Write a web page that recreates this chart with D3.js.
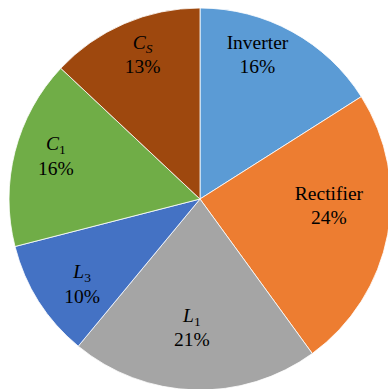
<!DOCTYPE html>
<html>
<head>
<meta charset="utf-8">
<script src="https://cdn.jsdelivr.net/npm/d3@7"></script>
<style>
  html, body { margin: 0; padding: 0; background: #fff; }
  svg { display: block; }
</style>
</head>
<body>
<svg id="chart" width="388" height="389"></svg>
<script>
// Share of loss by component (percent), clockwise from 12 o'clock
const categories = ["Inverter", "Rectifier", "L1", "L3", "C1", "CS"];
const shares = [16, 24, 21, 10, 16, 13];
const colors = ["#5B9BD5", "#ED7D31", "#A5A5A5", "#4472C4", "#70AD47", "#9E480E"];

// How each name is typeset: main letter, subscript, italic flags
const nameParts = {
  "Inverter": { main: "Inverter", sub: null, italic: false },
  "Rectifier": { main: "Rectifier", sub: null, italic: false },
  "L1": { main: "L", sub: "1", italic: true, subItalic: false },
  "L3": { main: "L", sub: "3", italic: true, subItalic: false },
  "C1": { main: "C", sub: "1", italic: true, subItalic: false },
  "CS": { main: "C", sub: "S", italic: true, subItalic: true }
};

// Label anchors in polar form (degrees clockwise from top, fraction of radius)
const labelPolar = {
  "Inverter": [21.7, 0.814],
  "Rectifier": [93.1, 0.676],
  "L1": [183.6, 0.675],
  "L3": [234.2, 0.761],
  "C1": [286.6, 0.787],
  "CS": [338.3, 0.814]
};

const FONT = "'Liberation Serif', Tinos, 'Times New Roman', serif";

const svg = d3.select("#chart");
const cx = 200, cy = 199, R = 191;
const g = svg.append("g").attr("transform", `translate(${cx},${cy})`);

const data = categories.map((c, i) => ({ name: c, value: shares[i], color: colors[i] }));

const pie = d3.pie().value(d => d.value).sort(null);
const arc = d3.arc().innerRadius(0).outerRadius(R);

const arcs = pie(data);

g.selectAll("path.slice")
  .data(arcs)
  .join("path")
  .attr("class", "slice")
  .attr("d", arc)
  .attr("fill", d => d.data.color)
  .attr("stroke", "#ffffff")
  .attr("stroke-width", 0.8);

const fs = 19.5, subFs = 13.5;

const labels = g.selectAll("g.label")
  .data(arcs)
  .join("g")
  .attr("class", "label")
  .attr("font-family", FONT)
  .attr("fill", "#000")
  .attr("transform", d => {
    const [deg, frac] = labelPolar[d.data.name];
    const a = deg * Math.PI / 180;
    return `translate(${Math.sin(a) * R * frac},${-Math.cos(a) * R * frac})`;
  });

labels.each(function(d) {
  const p = nameParts[d.data.name];
  const t = d3.select(this).append("text")
    .attr("text-anchor", "middle")
    .attr("font-family", FONT)
    .attr("font-size", fs)
    .attr("y", -6);
  t.append("tspan")
    .attr("font-style", p.italic ? "italic" : "normal")
    .text(p.main);
  if (p.sub) {
    t.append("tspan")
      .attr("dy", 4)
      .attr("font-size", subFs)
      .attr("font-style", p.subItalic ? "italic" : "normal")
      .text(p.sub);
  }
  d3.select(this).append("text")
    .attr("text-anchor", "middle")
    .attr("font-family", FONT)
    .attr("font-size", fs)
    .attr("y", 18.5)
    .text(d.data.value + "%");
});
</script>
</body>
</html>
